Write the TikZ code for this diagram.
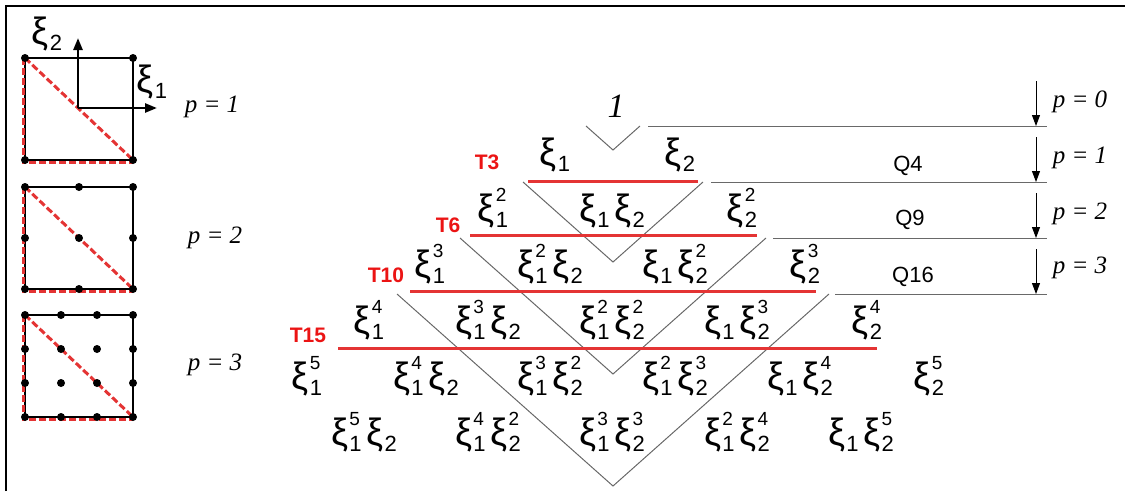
\documentclass[tikz,border=0pt]{standalone}
\usepackage{fontspec}
\setmainfont{Liberation Serif}
\newfontfamily\arialfont{Liberation Sans}
\usepackage{xcolor}
\usetikzlibrary{arrows.meta,positioning}

\definecolor{lred}{RGB}{228,52,52}
\definecolor{tred}{RGB}{235,20,20}
\definecolor{lgray}{RGB}{105,105,105}

% xi_1^a and xi_2^b, exponent may be empty
\newcommand{\supfont}{\fontsize{19}{19}\selectfont}
\newcommand{\subfont}{\fontsize{22}{22}\selectfont}
\newcommand{\xone}[1]{ξ\hspace{1pt}\rlap{\raisebox{20pt}{\supfont #1}}\raisebox{-6pt}{\subfont 1}}
\newcommand{\xtwo}[1]{ξ\hspace{1pt}\rlap{\raisebox{20pt}{\supfont #1}}\raisebox{-6pt}{\subfont 2}}
\newcommand{\xmix}[2]{\xone{#1}\hspace{5pt}\xtwo{#2}}

\begin{document}
\begin{tikzpicture}[x=1pt, y=-1pt,
  mono/.style={font=\arialfont\fontsize{38}{40}\selectfont, inner sep=0pt, anchor=base},
  tlab/.style={font=\arialfont\bfseries\fontsize{21}{23}\selectfont, text=tred, inner sep=0pt},
  qlab/.style={font=\arialfont\fontsize{22}{24}\selectfont, inner sep=0pt},
  plab/.style={font=\itshape\fontsize{25}{27}\selectfont, inner sep=0pt},
  gline/.style={draw=lgray, line width=1pt},
  rline/.style={draw=lred, line width=3pt},
  arr/.style={-{Triangle[length=11pt,width=8pt]}, line width=1pt},
  axarr/.style={-{Triangle[length=12pt,width=9pt]}, line width=2.5pt},
  sqbox/.style={draw, line width=2.2pt},
  rdash/.style={draw=lred, line width=3pt, dash pattern=on 7pt off 3pt}
]
\useasboundingbox (0,0) rectangle (1125,491);

% frame
\draw[line width=2.5pt] (6,491) -- (6,6) -- (1125,6);

% --- reference squares ---
\draw[sqbox] (25,58) rectangle (133,160);
\draw[rdash] (23,58) -- (23,162) -- (133,162);
\draw[rdash] (25,58) -- (133,160);
\foreach \i in {0,1} \foreach \j in {0,1}
  \fill ({25+108*\i},{58+102*\j}) circle (4pt);
\coordinate (org) at (78,108);
\coordinate (ax2) at (78,38);
\coordinate (ax1) at (157,108);
\draw[axarr] (org) -- (ax2);
\draw[axarr] (org) -- (ax1);
\node[mono] (lab2) at (47,44) {\xtwo{}};
\node[mono] (lab1) at (152,92) {\xone{}};
\node[plab] (pl1) at (212,107) {p = 1};

\draw[sqbox] (25,187) rectangle (133,289);
\draw[rdash] (23,187) -- (23,291) -- (133,291);
\draw[rdash] (25,187) -- (133,289);
\foreach \i in {0,...,2} \foreach \j in {0,...,2}
  \fill ({25+54*\i},{187+51*\j}) circle (4pt);
\node[plab] (pl2) at (215,238) {p = 2};

\draw[sqbox] (25,315) rectangle (133,417);
\draw[rdash] (23,315) -- (23,419) -- (133,419);
\draw[rdash] (25,315) -- (133,417);
\foreach \i in {0,...,3} \foreach \j in {0,...,3}
  \fill ({25+36*\i},{315+34*\j}) circle (4pt);
\node[plab] (pl3) at (215,365) {p = 3};

% --- Pascal triangle of monomials ---
\node[font=\itshape\fontsize{34}{36}\selectfont, inner sep=0pt] (one) at (616,106) {1};

\node[mono] (m10) at (555,165) {\xone{}};
\node[mono] (m01) at (680,165) {\xtwo{}};

\node[mono] (m20) at (493,221) {\xone{2}};
\node[mono] (m11) at (612,221) {\xmix{}{}};
\node[mono] (m02) at (742,221) {\xtwo{2}};

\node[mono] (m30) at (430,277) {\xone{3}};
\node[mono] (m21) at (550,277) {\xmix{2}{}};
\node[mono] (m12) at (675,277) {\xmix{}{2}};
\node[mono] (m03) at (805,277) {\xtwo{3}};

\node[mono] (m40) at (369,333) {\xone{4}};
\node[mono] (m31) at (488,333) {\xmix{3}{}};
\node[mono] (m22) at (612,333) {\xmix{2}{2}};
\node[mono] (m13) at (737,333) {\xmix{}{3}};
\node[mono] (m04) at (867,333) {\xtwo{4}};

\node[mono] (m50) at (307,389) {\xone{5}};
\node[mono] (m41) at (426,389) {\xmix{4}{}};
\node[mono] (m32) at (550,389) {\xmix{3}{2}};
\node[mono] (m23) at (675,389) {\xmix{2}{3}};
\node[mono] (m14) at (800,389) {\xmix{}{4}};
\node[mono] (m05) at (929,389) {\xtwo{5}};

\node[mono] (m51) at (364,445) {\xmix{5}{}};
\node[mono] (m42) at (488,445) {\xmix{4}{2}};
\node[mono] (m33) at (612,445) {\xmix{3}{3}};
\node[mono] (m24) at (737,445) {\xmix{2}{4}};
\node[mono] (m15) at (861,445) {\xmix{}{5}};

% V shapes
\coordinate (v0l) at (586,126); \coordinate (v0b) at (613,150); \coordinate (v0r) at (640,126);
\coordinate (v1l) at (523,182); \coordinate (v1b) at (613,262); \coordinate (v1r) at (703,182);
\coordinate (v2l) at (460,238); \coordinate (v2b) at (613,374); \coordinate (v2r) at (766,238);
\coordinate (v3l) at (397,294); \coordinate (v3b) at (613,486); \coordinate (v3r) at (829,294);
\draw[gline] (v0l) -- (v0b) -- (v0r);
\draw[gline] (v1l) -- (v1b) -- (v1r);
\draw[gline] (v2l) -- (v2b) -- (v2r);
\draw[gline] (v3l) -- (v3b) -- (v3r);

% red truncation lines
\node[tlab] (t3) at (487,162) {T3};
\node[tlab] (t6) at (448,225) {T6};
\node[tlab] (t10) at (386,275) {T10};
\node[tlab] (t15) at (308,335) {T15};
\coordinate (r3a) at (528,181); \coordinate (r3b) at (698,181);
\coordinate (r6a) at (470,235); \coordinate (r6b) at (757,235);
\coordinate (r10a) at (410,291); \coordinate (r10b) at (816,291);
\coordinate (r15a) at (338,348); \coordinate (r15b) at (877,348);
\draw[rline] (r3a) -- (r3b);
\draw[rline] (r6a) -- (r6b);
\draw[rline] (r10a) -- (r10b);
\draw[rline] (r15a) -- (r15b);

% order levels on the right
\coordinate (h0a) at (648,126); \coordinate (h0b) at (1047,126);
\coordinate (h1a) at (711,182); \coordinate (h1b) at (1047,182);
\coordinate (h2a) at (773,238); \coordinate (h2b) at (1047,238);
\coordinate (h3a) at (835,294); \coordinate (h3b) at (1047,294);
\draw[gline] (h0a) -- (h0b);
\draw[gline] (h1a) -- (h1b);
\draw[gline] (h2a) -- (h2b);
\draw[gline] (h3a) -- (h3b);

\node[qlab] (q4) at (908,166) {Q4};
\node[qlab] (q9) at (910,220) {Q9};
\node[qlab] (q16) at (913,277) {Q16};

\coordinate (s0) at (1036,81);  \coordinate (e0) at (1036,126);
\coordinate (s1) at (1036,137); \coordinate (e1) at (1036,182);
\coordinate (s2) at (1036,193); \coordinate (e2) at (1036,238);
\coordinate (s3) at (1036,249); \coordinate (e3) at (1036,294);
\draw[arr] (s0) -- (e0);
\draw[arr] (s1) -- (e1);
\draw[arr] (s2) -- (e2);
\draw[arr] (s3) -- (e3);

\node[plab] (p0) at (1080,102) {p = 0};
\node[plab] (p1) at (1080,158) {p = 1};
\node[plab] (p2) at (1080,214) {p = 2};
\node[plab] (p3) at (1080,268) {p = 3};

\end{tikzpicture}
\end{document}
